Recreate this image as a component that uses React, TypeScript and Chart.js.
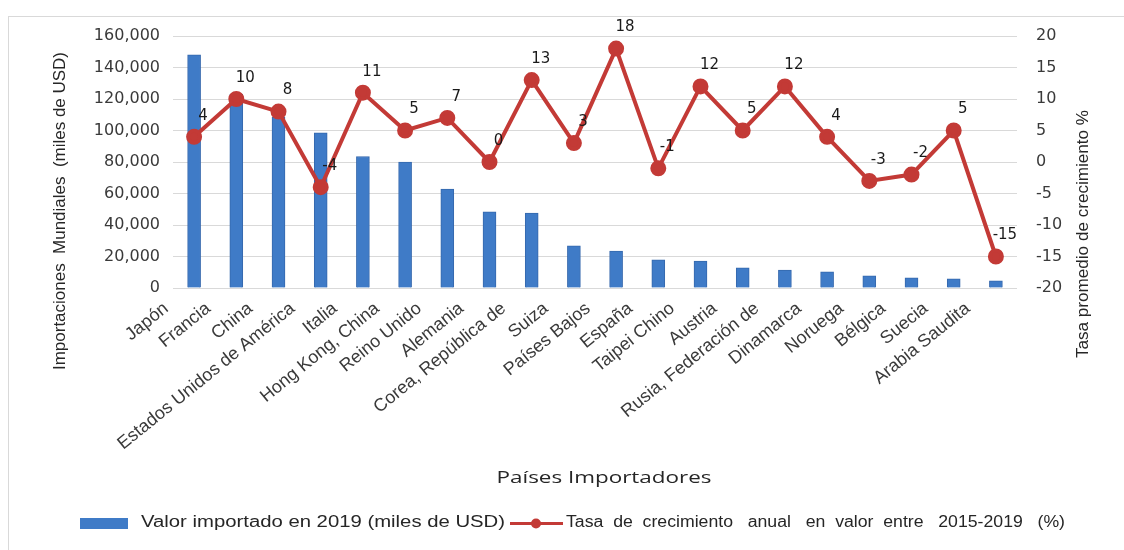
import React, { useEffect, useRef } from 'react';
import { Chart, registerables } from 'chart.js';

Chart.register(...registerables);

const categories = [
  'Japón', 'Francia', 'China', 'Estados Unidos de América', 'Italia',
  'Hong Kong, China', 'Reino Unido', 'Alemania', 'Corea, República de', 'Suiza',
  'Países Bajos', 'España', 'Taipei Chino', 'Austria', 'Rusia, Federación de',
  'Dinamarca', 'Noruega', 'Bélgica', 'Suecia', 'Arabia Saudita',
];
const importValues = [
  148000, 123000, 108500, 98500, 83500, 80000, 62800, 48300, 47600, 26800,
  23500, 17900, 17100, 12800, 11300, 10200, 7700, 6400, 5800, 4500,
];
const growthRates = [4, 10, 8, -4, 11, 5, 7, 0, 13, 3, 18, -1, 12, 5, 12, 4, -3, -2, 5, -15];
const leftTicks = [0, 20000, 40000, 60000, 80000, 100000, 120000, 140000, 160000];
const rightTicks = [-20, -15, -10, -5, 0, 5, 10, 15, 20];

const barLabel = 'Valor importado en 2019 (miles de USD)';
const lineLabel = 'Tasa  de  crecimiento   anual   en  valor  entre   2015-2019   (%)';
const leftTitle = 'Importaciones  Mundiales  (miles de USD)';
const rightTitle = 'Tasa promedio de crecimiento %';
const xTitle = 'Países Importadores';

const BAR_COLOR = '#3f7bc7';
const LINE_COLOR = '#c33a36';

function drawFitted(ctx: CanvasRenderingContext2D, text: string, cx: number, cy: number, width: number, size: number, rot: number, family: string) {
  ctx.save();
  ctx.font = `${size}px ${family}`;
  const w = ctx.measureText(text).width;
  ctx.translate(cx, cy);
  ctx.rotate(rot);
  ctx.scale(width / w, 1);
  ctx.textAlign = 'center';
  ctx.textBaseline = 'middle';
  ctx.fillStyle = '#262626';
  ctx.fillText(text, 0, 0);
  ctx.restore();
}

const decorPlugin = {
  id: 'decor',
  beforeDraw(chart: any) {
    const ctx = chart.ctx as CanvasRenderingContext2D;
    ctx.save();
    ctx.fillStyle = '#ffffff';
    ctx.fillRect(0, 0, chart.width, chart.height);
    ctx.strokeStyle = '#d9d9d9';
    ctx.lineWidth = 1;
    ctx.beginPath();
    ctx.moveTo(8, 16.5);
    ctx.lineTo(chart.width, 16.5);
    ctx.moveTo(8.5, 16);
    ctx.lineTo(8.5, chart.height);
    ctx.stroke();
    ctx.restore();
  },
  afterDatasetsDraw(chart: any) {
    const ctx = chart.ctx as CanvasRenderingContext2D;
    const meta = chart.getDatasetMeta(1);
    ctx.save();
    ctx.font = '15px "DejaVu Sans"';
    ctx.fillStyle = '#1a1a1a';
    ctx.textAlign = 'center';
    ctx.textBaseline = 'middle';
    meta.data.forEach((pt: any, i: number) => {
      ctx.fillText(String(growthRates[i]), pt.x + 9, pt.y - 21);
    });
    ctx.restore();
  },
  afterDraw(chart: any) {
    const ctx = chart.ctx as CanvasRenderingContext2D;
    drawFitted(ctx, leftTitle, 60, 211, 318, 17, -Math.PI / 2, '"Liberation Sans"');
    drawFitted(ctx, rightTitle, 1083, 234, 248, 17, -Math.PI / 2, '"Liberation Sans"');
    drawFitted(ctx, xTitle, 604, 478, 215, 17, 0, '"Open Sans"');
    // legend
    ctx.save();
    ctx.fillStyle = BAR_COLOR;
    ctx.fillRect(80, 518, 48, 11);
    ctx.strokeStyle = LINE_COLOR;
    ctx.lineWidth = 3;
    ctx.beginPath();
    ctx.moveTo(510, 523.5);
    ctx.lineTo(563, 523.5);
    ctx.stroke();
    ctx.fillStyle = LINE_COLOR;
    ctx.beginPath();
    ctx.arc(536, 523.5, 5, 0, Math.PI * 2);
    ctx.fill();
    ctx.restore();
    drawFitted(ctx, barLabel, 141 + 364 / 2, 523, 364, 16, 0, '"Liberation Sans"');
    drawFitted(ctx, lineLabel, 566 + 499 / 2, 523, 499, 16, 0, '"Liberation Sans"');
  },
};

export default function App() {
  const ref = useRef<HTMLCanvasElement>(null);
  useEffect(() => {
    if (!ref.current) return;
    const chart = new Chart(ref.current, {
      type: 'bar',
      data: {
        labels: categories,
        datasets: [
          {
            type: 'bar',
            label: barLabel,
            data: importValues,
            backgroundColor: BAR_COLOR,
            borderColor: '#3568ad',
            borderWidth: 1,
            barThickness: 13,
            yAxisID: 'y',
            order: 2,
          },
          {
            type: 'line',
            label: lineLabel,
            data: growthRates,
            borderColor: LINE_COLOR,
            backgroundColor: LINE_COLOR,
            borderWidth: 4,
            pointRadius: 6,
            pointHoverRadius: 6,
            pointBackgroundColor: LINE_COLOR,
            pointBorderColor: LINE_COLOR,
            tension: 0,
            yAxisID: 'y1',
            order: 1,
          },
        ],
      } as any,
      options: {
        responsive: false,
        animation: false,
        devicePixelRatio: 1,
        layout: { padding: { top: 36, left: 0, right: 0, bottom: 0 } },
        plugins: {
          legend: { display: false },
          tooltip: { enabled: false },
          title: { display: false },
        },
        scales: {
          x: {
            type: 'category',
            offset: true,
            grid: { display: false },
            border: { display: false },
            ticks: {
              autoSkip: false,
              maxRotation: 39,
              minRotation: 39,
              padding: 2,
              labelOffset: -28,
              color: '#3a3a3a',
              font: { family: '"Liberation Sans"', size: 18 },
            },
            afterFit(scale: any) {
              scale.height = 262;
            },
          },
          y: {
            type: 'linear',
            position: 'left',
            min: 0,
            max: 160000,
            afterBuildTicks(scale: any) {
              scale.ticks = leftTicks.map((v) => ({ value: v }));
            },
            grid: { color: '#d9d9d9', lineWidth: 1, drawTicks: false },
            border: { display: false },
            ticks: {
              padding: 13,
              color: '#3a3a3a',
              font: { family: '"DejaVu Sans"', size: 16 },
              callback: (v: any) => Number(v).toLocaleString('en-US'),
            },
            afterFit(scale: any) {
              scale.width = 173;
            },
          },
          y1: {
            type: 'linear',
            position: 'right',
            min: -20,
            max: 20,
            afterBuildTicks(scale: any) {
              scale.ticks = rightTicks.map((v) => ({ value: v }));
            },
            grid: { display: false, drawTicks: false },
            border: { display: false },
            ticks: {
              padding: 19,
              color: '#3a3a3a',
              font: { family: '"DejaVu Sans"', size: 16 },
              callback: (v: any) => String(v),
            },
            afterFit(scale: any) {
              scale.width = 107;
            },
          },
        },
      } as any,
      plugins: [decorPlugin],
    });
    return () => chart.destroy();
  }, []);
  return (
    <div style={{ position: 'fixed', left: 0, top: 0, width: 1124, height: 550, background: '#fff' }}>
      <canvas ref={ref} width={1124} height={550} style={{ display: 'block' }} />
    </div>
  );
}
